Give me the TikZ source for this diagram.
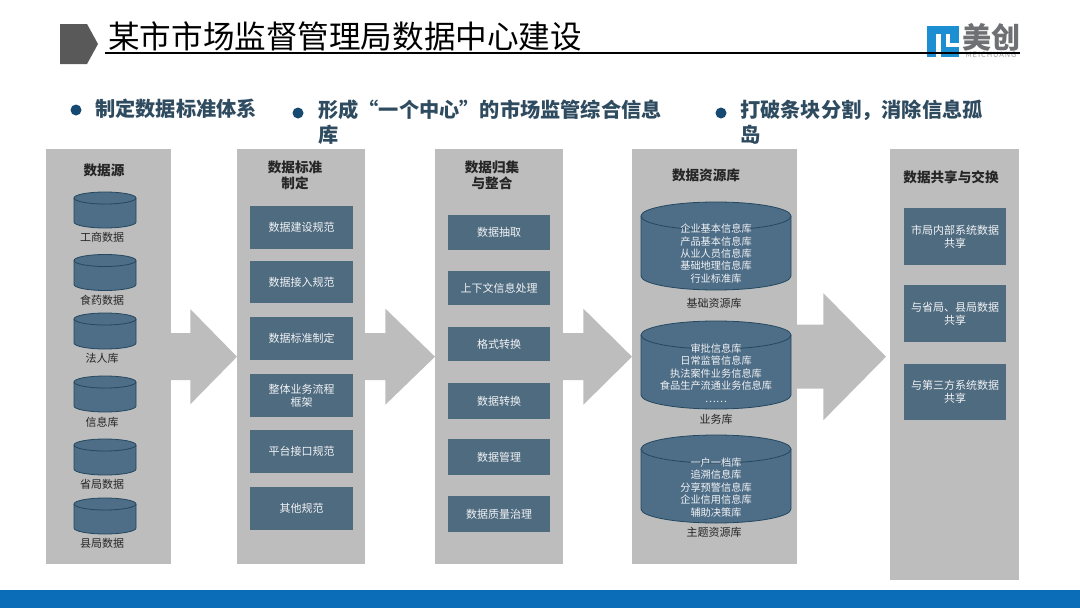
\documentclass[tikz,border=0pt]{standalone}
\usepackage{fontspec}
\setmainfont{Noto Sans CJK SC}

\definecolor{blockgray}{HTML}{BDBDBD}
\definecolor{boxblue}{HTML}{4F6B80}
\definecolor{cylblue}{HTML}{4E6D87}
\definecolor{cyledge}{HTML}{24485F}
\definecolor{bullettext}{HTML}{2F4B60}
\definecolor{bulletdot}{HTML}{174A70}
\definecolor{barblue}{HTML}{0B6DB7}
\definecolor{logoblue}{HTML}{1B8FD2}
\definecolor{logogray}{HTML}{6F7073}

\tikzset{
    column/.style={fill=blockgray, anchor=north west, inner sep=0pt},
    colhead/.style={align=center, font=\fontsize{13.6}{16}\selectfont\bfseries, text=black!85},
    stdbox/.style={fill=boxblue, text=white!92!boxblue, align=center, inner sep=0pt,
        minimum width=103pt, font=\fontsize{11}{13}\selectfont},
    dbdrum/.style={draw=cyledge, line width=0.8pt, fill=cylblue},
    dblabel/.style={font=\fontsize{11}{13}\selectfont, text=black!85},
    dbtext/.style={align=center, text=white!92!cylblue, font=\fontsize{10.2}{12.4}\selectfont},
    bullet/.style={circle, fill=bulletdot, minimum size=11pt, inner sep=0pt},
    bullettxt/.style={anchor=north west, align=left, text=bullettext, inner sep=0pt,
        font=\fontsize{20.2}{25}\selectfont\bfseries},
}

% drum: centre x, top y, x radius, y radius, bottom y
\newcommand{\drawdrum}[5]{
    \draw[dbdrum] (#1-#3,#2+#4) -- (#1-#3,#5-#4) arc (180:0:#3 and #4) -- (#1+#3,#2+#4);
    \draw[dbdrum] (#1,#2+#4) ellipse (#3 and #4);
}

\begin{document}
\begin{tikzpicture}[x=1pt, y=-1pt]
    \useasboundingbox (0,0) rectangle (1080,608);

    % Title and logo
    \fill[black!65] (60,24) -- (87,24) -- (98,44) -- (87,64) -- (60,64) -- cycle;
    \node[anchor=base west, inner sep=0pt, font=\fontsize{31.6}{34}\selectfont] (title) at (108,48) {某市市场监督管理局数据中心建设};
    \fill[logoblue] (927,26) rectangle (959,57);
    \fill[white] (936,34) rectangle (941,57);
    \fill[white] (946,34) rectangle (950,46);
    \fill[white] (946,43) rectangle (959,47);
    \node[inner sep=0pt, text=logogray, font=\fontsize{29}{29}\selectfont\bfseries] (logotext) at (991,37) {美创};
    \node[inner sep=0pt, text=logogray!70, font=\fontsize{7.5}{8}\selectfont\addfontfeatures{LetterSpace=12}] (logosub) at (991,55) {MEICHUANG};
    \draw[line width=1.2pt] (105,53) -- (1020,53);

    % Three bullets
    \node[bullet] (dotA) at (76,110) {};
    \node[bullet] (dotB) at (298,113) {};
    \node[bullet] (dotC) at (721,113) {};
    \node[bullettxt] (lineA) at (95,99) {制定数据标准体系};
    \node[bullettxt, text width=350pt] (lineB) at (318,100) {形成“一个中心”的市场监管综合信息\\库};
    \node[bullettxt, text width=250pt] (lineC) at (740,100) {打破条块分割，消除信息孤\\岛};

    % Gray columns
    \node[column, minimum width=125pt, minimum height=415pt] (colA) at (46,149) {};
    \node[column, minimum width=128pt, minimum height=415pt] (colB) at (237,149) {};
    \node[column, minimum width=128pt, minimum height=415pt] (colC) at (435,149) {};
    \node[column, minimum width=165pt, minimum height=415pt] (colD) at (632,149) {};
    \node[column, minimum width=129pt, minimum height=431pt] (colE) at (890,149) {};

    % Block arrows between columns
    \foreach \src/\dst/\len/\neck/\head/\gap in {colA/colB/19/23.5/47.5/0, colB/colC/20/23.5/48/0, colC/colD/20/23.5/48/0, colD/colE/26/32/63.5/4}
        \fill[blockgray] ([shift={(-1,-\neck)}]\src.east) -- ([shift={(\len,-\neck)}]\src.east)
            -- ([shift={(\len,-\head)}]\src.east) -- ([xshift=-\gap pt]\dst.west |- \src.east)
            -- ([shift={(\len,\head)}]\src.east) -- ([shift={(\len,\neck)}]\src.east)
            -- ([shift={(-1,\neck)}]\src.east) -- cycle;

    % Column headers
    \node[colhead] (headA) at (104,170) {数据源};
    \node[colhead] (headB) at (295,175) {数据标准\\制定};
    \node[colhead] (headC) at (492,175) {数据归集\\与整合};
    \node[colhead] (headD) at (706,175) {数据资源库};
    \node[colhead] (headE) at (951,177) {数据共享与交换};

    % Source drums
    \foreach \i/\ytop/\laby/\lab in {1/192/237/工商数据, 2/254.5/300/食药数据, 3/313/358/法人库, 4/376/422/信息库, 5/439/484/省局数据, 6/498/543/县局数据} {
        \drawdrum{105}{\ytop}{31}{6}{\ytop+36}
        \node[dblabel] (srclab\i) at (102,\laby) {\lab};
    }

    % Standards boxes
    \foreach \i/\ypos/\hgt/\lab in {1/227.5/43/数据建设规范, 2/282/42/数据接入规范, 3/338.5/43/数据标准制定, 4/395.5/43/整体业务流程\\框架, 5/451.5/43/平台接口规范, 6/508.5/43/其他规范}
        \node[stdbox, minimum height=\hgt pt] (std\i) at (301.5,\ypos) {\lab};

    % Integration boxes
    \foreach \i/\ypos/\hgt/\lab in {1/232.5/35/数据抽取, 2/288/34/上下文信息处理, 3/344/34/格式转换, 4/401/36/数据转换, 5/457/36/数据管理, 6/514/36/数据质量治理}
        \node[stdbox, minimum width=102pt, minimum height=\hgt pt] (int\i) at (499,\ypos) {\lab};

    % Resource library drums
    \drawdrum{716}{202}{75}{14}{290}
    \drawdrum{716}{321}{75}{14}{409}
    \drawdrum{716}{435}{75}{14}{523}
    \node[dbtext] (resAtext) at (716,253.5) {企业基本信息库\\产品基本信息库\\从业人员信息库\\基础地理信息库\\行业标准库};
    \node[dbtext] (resBtext) at (716,373) {审批信息库\\日常监管信息库\\执法案件业务信息库\\食品生产流通业务信息库\\……};
    \node[dbtext] (resCtext) at (716,487.5) {一户一档库\\追溯信息库\\分享预警信息库\\企业信用信息库\\辅助决策库};
    \node[dblabel] (resAlab) at (714,303) {基础资源库};
    \node[dblabel] (resBlab) at (716,419) {业务库};
    \node[dblabel] (resClab) at (714,532) {主题资源库};

    % Sharing boxes
    \foreach \i/\ypos/\hgt/\lab in {1/236.5/57/市局内部系统数据\\共享, 2/313.5/57/与省局、县局数据\\共享, 3/392/56/与第三方系统数据\\共享}
        \node[stdbox, minimum width=102pt, minimum height=\hgt pt] (share\i) at (955,\ypos) {\lab};

    % Bottom bar
    \fill[barblue] (0,590) rectangle (1080,608);
\end{tikzpicture}
\end{document}
